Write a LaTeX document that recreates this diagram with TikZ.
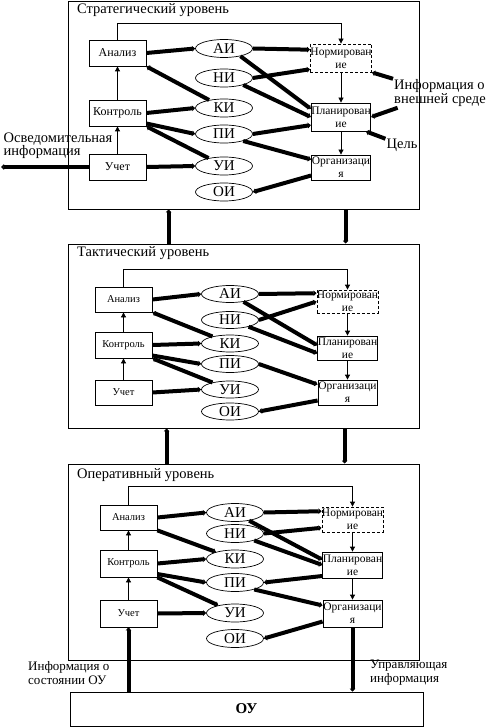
\documentclass[tikz,border=0pt]{standalone}
\usepackage{fontspec}
\setmainfont{Liberation Serif}
\usetikzlibrary{positioning,shapes.geometric,arrows.meta}

\begin{document}
\begin{tikzpicture}[x=1pt,y=-1pt,on grid,
                    tier/.style={draw,line width=0.8pt,inner sep=0pt},
                    unit/.style={draw,line width=0.8pt,minimum width=57pt,minimum height=26pt,inner sep=0pt,font=\fontsize{12}{13}\selectfont},
                    sunit/.style={unit,font=\fontsize{10.5}{11}\selectfont},
                    func/.style={unit,minimum width=59pt,minimum height=26pt,align=center,font=\fontsize{11.5}{13}\selectfont},
                    info/.style={draw,ellipse,line width=0.7pt,minimum width=57pt,minimum height=18pt,inner sep=0pt,font=\fontsize{15}{15}\selectfont},
                    note/.style={align=left,inner sep=1pt,font=\fontsize{14.5}{13}\selectfont},
                    small note/.style={note,font=\fontsize{13}{14}\selectfont},
                    link/.style={line width=0.8pt,-{Triangle[length=5pt,width=5pt]}},
                    fat/.style={line width=4pt,-{Triangle[length=3pt,width=5.5pt]}}]
                      \useasboundingbox (0,0) rectangle (496,727);
                      % strategic level
                      \node[tier,minimum width=351pt,minimum height=208pt] (s_frame) at (243.5,105) {};
                      \node[note,anchor=west] (s_title) at (76,10) {Стратегический уровень};
                      \node[unit] (s_an) at (117.5,53) {Анализ};
                      \node[unit] (s_ko) [below=60pt of s_an] {Контроль};
                      \node[unit] (s_uc) [below=54pt of s_ko] {Учет};
                      \node[info] (s_ai) at (224,48.5) {АИ};
                      \node[info] (s_ni) [below=29.5pt of s_ai] {НИ};
                      \node[info] (s_ki) [below=30pt of s_ni] {КИ};
                      \node[info] (s_pi) [below=26pt of s_ki] {ПИ};
                      \node[info] (s_ui) [below=32pt of s_pi] {УИ};
                      \node[info] (s_oi) [below=26pt of s_ui] {ОИ};
                      \node[func,dashed,dash pattern=on 3pt off 2pt,minimum height=28pt] (s_no) at (341,58) {Нормирован\\ие};
                      \node[func,minimum height=28pt] (s_pl) [below=59pt of s_no] {Планирован\\ие};
                      \node[func,minimum height=25pt] (s_or) [below=50.5pt of s_pl] {Организаци\\я};
                      \node[note] (s_env) at (440,93) {Информация о\\внешней среде};
                      \node[note] (s_goal) at (402,145) {Цель};
                      \node[note] (s_inform) at (58,146) {Осведомительная\\информация};
                      \coordinate (s_out) at (1,167);
                      \draw[link] (s_an.north) -- ++(0,-16) -| (s_no.north);
                      \path[link]
                      (s_uc) edge (s_ko)
                      (s_ko) edge (s_an)
                      (s_no) edge (s_pl)
                      (s_pl) edge (s_or);
                      \path[fat]
                      (s_an.east) edge (s_ai.west)
                      (s_ki) edge (s_an.south east)
                      (s_ko.east) edge (s_ki.west)
                      (s_ko.-20) edge (s_pi.west)
                      (s_ui) edge (s_ko.south east)
                      (s_uc.east) edge (s_ui.west)
                      (s_uc.west) edge (s_out)
                      (s_ai.east) edge (s_no.165)
                      (s_ai.-25) edge (s_pl.165)
                      (s_ni.east) edge (s_no.200)
                      (s_ni.-20) edge (s_pl.west)
                      (s_pi.east) edge (s_pl.195)
                      (s_pi.-20) edge (s_or.165)
                      (s_or.195) edge (s_oi.east)
                      (s_env) edge (s_no.south east)
                      (s_env) edge (s_pl.east)
                      (s_goal) edge (s_pl.-30);
                      % tactical level
                      \node[tier,minimum width=351pt,minimum height=184pt] (t_frame) at (243.5,336) {};
                      \node[note,anchor=west] (t_title) at (76,253) {Тактический уровень};
                      \node[sunit,minimum height=25pt] (t_an) at (123.5,299.5) {Анализ};
                      \node[sunit] (t_ko) [below=45.5pt of t_an] {Контроль};
                      \node[sunit,minimum height=25pt] (t_uc) [below=47.5pt of t_ko] {Учет};
                      \node[info,minimum height=17pt] (t_ai) at (230,294) {АИ};
                      \node[info,minimum height=17pt] (t_ni) [below=26pt of t_ai] {НИ};
                      \node[info,minimum height=17pt] (t_ki) [below=23.5pt of t_ni] {КИ};
                      \node[info,minimum height=17pt] (t_pi) [below=20.5pt of t_ki] {ПИ};
                      \node[info,minimum height=17pt] (t_ui) [below=25.5pt of t_pi] {УИ};
                      \node[info,minimum height=17pt] (t_oi) [below=22pt of t_ui] {ОИ};
                      \node[func,dashed,dash pattern=on 3pt off 2pt,minimum height=23pt] (t_no) at (347.5,301.5) {Нормирован\\ие};
                      \node[func,minimum height=24pt] (t_pl) [below=46.5pt of t_no] {Планирован\\ие};
                      \node[func,minimum height=25pt] (t_or) [below=44.5pt of t_pl] {Организаци\\я};
                      \draw[link] (t_an.north) -- ++(0,-17) -| (t_no.north);
                      \path[link]
                      (t_uc) edge (t_ko)
                      (t_ko) edge (t_an)
                      (t_no) edge (t_pl)
                      (t_pl) edge (t_or);
                      \path[fat]
                      (t_an.east) edge (t_ai.west)
                      (t_ki) edge (t_an.south east)
                      (t_ko.east) edge (t_ki.west)
                      (t_ko.-20) edge (t_pi.west)
                      (t_ui) edge (t_ko.south east)
                      (t_uc.east) edge (t_ui.west)
                      (t_ai.east) edge (t_no.165)
                      (t_ai.-30) edge (t_pl.175)
                      (t_ni.east) edge (t_no.west)
                      (t_ni.-20) edge (t_pl.190)
                      (t_pi.east) edge (t_or.165)
                      (t_or.195) edge (t_oi.east);
                      % operative level
                      \node[tier,minimum width=351pt,minimum height=196pt] (o_frame) at (243.5,562) {};
                      \node[note,anchor=west] (o_title) at (76,475) {Оперативный уровень};
                      \node[sunit,minimum height=25pt] (o_an) at (128.5,517.5) {Анализ};
                      \node[sunit,minimum height=27pt] (o_ko) [below=46pt of o_an] {Контроль};
                      \node[sunit,minimum height=27pt] (o_uc) [below=50pt of o_ko] {Учет};
                      \node[info] (o_ai) at (235,512.5) {АИ};
                      \node[info] (o_ni) [below=21pt of o_ai] {НИ};
                      \node[info] (o_ki) [below=25.5pt of o_ni] {КИ};
                      \node[info] (o_pi) [below=23.5pt of o_ki] {ПИ};
                      \node[info] (o_ui) [below=30.5pt of o_pi] {УИ};
                      \node[info] (o_oi) [below=25.5pt of o_ui] {ОИ};
                      \node[func,dashed,dash pattern=on 3pt off 2pt,minimum height=25pt] (o_no) at (352.5,519.5) {Нормирован\\ие};
                      \node[func] (o_pl) [below=45.5pt of o_no] {Планирован\\ие};
                      \node[func,minimum height=27pt] (o_or) [below=48.5pt of o_pl] {Организаци\\я};
                      \draw[link] (o_an.north) -- ++(0,-18) -| (o_no.north);
                      \path[link]
                      (o_uc) edge (o_ko)
                      (o_ko) edge (o_an)
                      (o_no) edge (o_pl)
                      (o_pl) edge (o_or);
                      \path[fat]
                      (o_an.east) edge (o_ai.west)
                      (o_an.south east) edge (o_ki)
                      (o_ko.east) edge (o_ki.west)
                      (o_ko.-20) edge (o_pi.west)
                      (o_ko.south east) edge (o_ui)
                      (o_uc.east) edge (o_ui.west)
                      (o_ai.east) edge (o_no.165)
                      (o_ai.-30) edge (o_pl.170)
                      (o_ni.east) edge (o_no.195)
                      (o_ni.-20) edge (o_pl.west)
                      (o_pl.200) edge (o_pi.east)
                      (o_pi.-20) edge (o_or.165)
                      (o_or.195) edge (o_oi.east);
                      % object of management
                      \node[tier,minimum width=353pt,minimum height=34pt,font=\bfseries\fontsize{15}{15}\selectfont] (ou) at (246.5,709) {ОУ};
                      \node[small note,anchor=west] (ou_state) at (27,673) {Информация о\\состоянии ОУ};
                      \node[small note,anchor=west] (ou_ctrl) at (369,673) {Управляющая\\информация};
                      \path[fat]
                      (o_or.south) edge (o_or.south |- ou.north)
                      (ou.north -| o_uc.south) edge (o_uc.south);
                      % links between levels
                      \path[fat]
                      ([xshift=101pt]t_frame.north west) edge ([xshift=101pt]s_frame.south west)
                      ([xshift=278pt]s_frame.south west) edge ([xshift=278pt]t_frame.north west)
                      ([xshift=99pt]o_frame.north west) edge ([xshift=99pt]t_frame.south west)
                      ([xshift=277pt]t_frame.south west) edge ([xshift=277pt]o_frame.north west);
                  \end{tikzpicture}
\end{document}
